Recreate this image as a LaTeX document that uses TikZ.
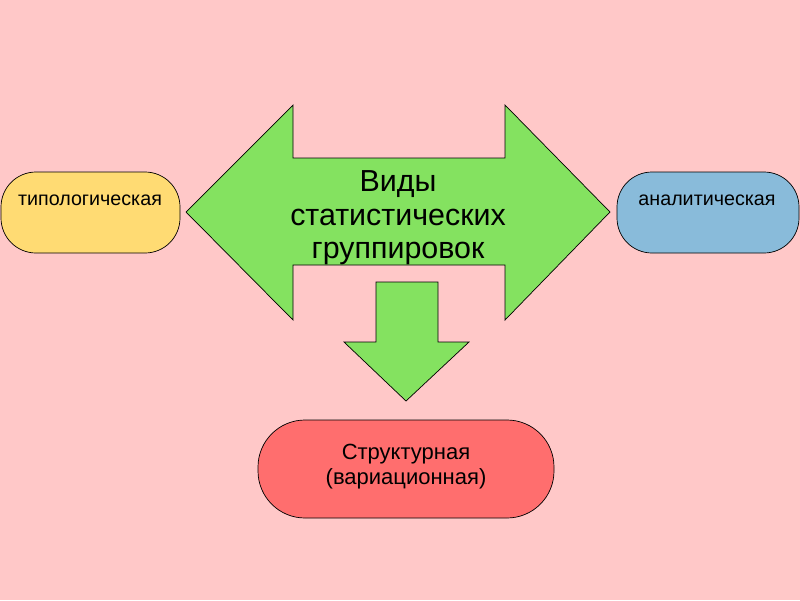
\documentclass[tikz,border=0pt]{standalone}
\usepackage{fontspec}
\setmainfont{Liberation Sans}
\definecolor{bgpink}{RGB}{255,200,200}
\definecolor{arrowgreen}{RGB}{132,226,96}
\definecolor{typyellow}{RGB}{255,219,115}
\definecolor{anblue}{RGB}{137,187,218}
\definecolor{strred}{RGB}{255,110,110}
\begin{document}
\begin{tikzpicture}[x=1pt,y=-1pt,
    blockarrow/.style = {draw=black, line width=0.7pt, line join=miter},
    pill/.style  = {draw=black, line width=0.7pt, rounded corners=35pt},
    small/.style = {font=\fontsize{19.7}{22}\selectfont}]
    % background
    \fill[bgpink] (0,0) rectangle (800,600);
    \useasboundingbox (0,0) rectangle (800,600);

    % double arrow
    \filldraw[blockarrow, fill=arrowgreen] (186,212) -- (293,105) -- (293,158) -- (505,158) -- (505,105)
        -- (610,212) -- (505,320) -- (505,265) -- (293,265) -- (293,320) -- cycle;
    \node[align=center, font=\fontsize{30.4}{33.5}\selectfont] (kinds) at (398,218)
        {Виды\\статистических\\группировок};

    % down arrow
    \filldraw[blockarrow, fill=arrowgreen] (376,282) -- (438,282) -- (438,342) -- (469,342)
        -- (406,401) -- (344,342) -- (376,342) -- cycle;

    % side boxes
    \filldraw[pill, fill=typyellow] (1,172) rectangle (180,253);
    \node[small] (typo) at (90,200) {типологическая};

    \filldraw[pill, fill=anblue] (617,172) rectangle (799,253);
    \node[small] (anal) at (707,200) {аналитическая};

    % bottom box
    \filldraw[pill, fill=strred, rounded corners=47pt] (258,420) rectangle (554,518);
    \node[align=center, font=\fontsize{22}{25}\selectfont] (struct) at (406,467)
        {Структурная\\(вариационная)};
\end{tikzpicture}
\end{document}
